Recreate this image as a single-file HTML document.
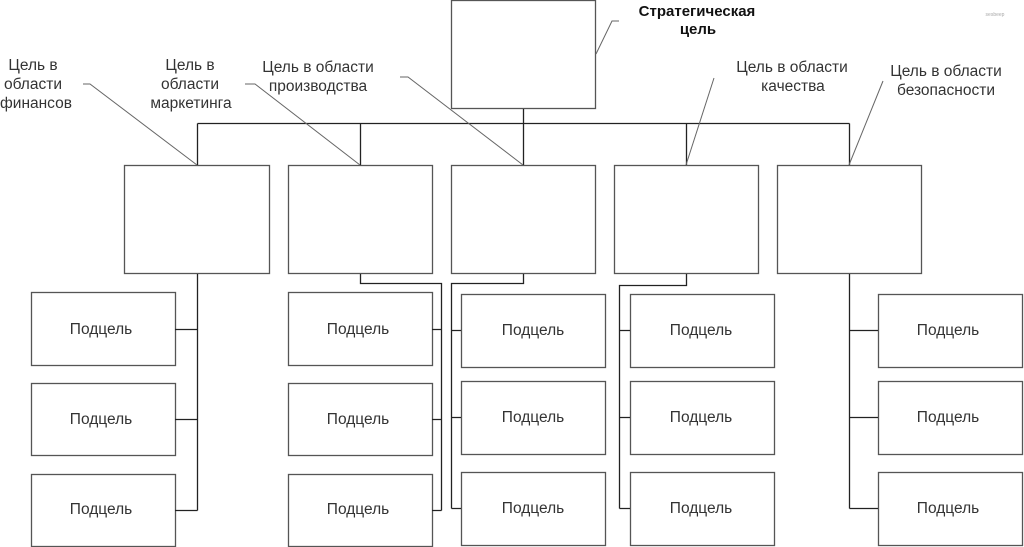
<!DOCTYPE html>
<html><head><meta charset="utf-8"><style>
html,body{margin:0;padding:0;background:#fff;}
svg{display:block;}
text{font-family:"Liberation Sans",sans-serif;font-size:15.5px;fill:#333;}
</style></head><body>
<svg width="1024" height="547" viewBox="0 0 1024 547" xmlns="http://www.w3.org/2000/svg">
<g fill="#fff" stroke="#555" stroke-width="1.3">
<rect x="451.5" y="0.5" width="144" height="108"/>
<rect x="124.5" y="165.5" width="145" height="108"/>
<rect x="288.5" y="165.5" width="144" height="108"/>
<rect x="451.5" y="165.5" width="144" height="108"/>
<rect x="614.5" y="165.5" width="144" height="108"/>
<rect x="777.5" y="165.5" width="144" height="108"/>
<rect x="31.5" y="292.5" width="144" height="73"/>
<rect x="31.5" y="383.5" width="144" height="72"/>
<rect x="31.5" y="474.5" width="144" height="72"/>
<rect x="288.5" y="292.5" width="144" height="73"/>
<rect x="288.5" y="383.5" width="144" height="72"/>
<rect x="288.5" y="474.5" width="144" height="72"/>
<rect x="461.5" y="294.5" width="144" height="73"/>
<rect x="461.5" y="381.5" width="144" height="73"/>
<rect x="461.5" y="472.5" width="144" height="73"/>
<rect x="630.5" y="294.5" width="144" height="73"/>
<rect x="630.5" y="381.5" width="144" height="73"/>
<rect x="630.5" y="472.5" width="144" height="73"/>
<rect x="878.5" y="294.5" width="144" height="73"/>
<rect x="878.5" y="381.5" width="144" height="73"/>
<rect x="878.5" y="472.5" width="144" height="73"/>
</g>
<g fill="none" stroke="#222" stroke-width="1.3">
<path d="M523.5 109V123.5M197.5 123.5H849.5M197.5 123.5V165M360.5 123.5V165M523.5 123.5V165M686.5 123.5V165M849.5 123.5V165"/>
<path d="M197.5 274V510.5M175 329.5H197.5M175 419.5H197.5M175 510.5H197.5"/>
<path d="M360.5 274V283.5H441.5V510.5M432 329.5H441.5M432 419.5H441.5M432 510.5H441.5"/>
<path d="M523.5 274V283.5H451.5V508.5M451.5 330.5H461M451.5 417.5H461M451.5 508.5H461"/>
<path d="M686.5 274V285.5H619.5V508.5M619.5 330.5H630M619.5 417.5H630M619.5 508.5H630"/>
<path d="M849.5 274V508.5M849.5 330.5H878M849.5 417.5H878M849.5 508.5H878"/>
</g>
<g fill="none" stroke="#666" stroke-width="1">
<path d="M83 84H90L197 165"/>
<path d="M245 84H255L360 165"/>
<path d="M400 77H408L523 165"/>
<path d="M714 78L686 165"/>
<path d="M883 81L849 165"/>
<path d="M619 21H612L596 54"/>
</g>
<g text-anchor="middle">
<text x="33" y="70">Цель в</text><text x="33" y="89">области</text><text x="36" y="108">финансов</text>
<text x="190" y="70">Цель в</text><text x="190" y="89">области</text><text x="191" y="108">маркетинга</text>
<text x="318" y="72">Цель в области</text><text x="318" y="91">производства</text>
<text x="792" y="72">Цель в области</text><text x="793" y="91">качества</text>
<text x="946" y="76">Цель в области</text><text x="946" y="95">безопасности</text>
<text x="697" y="16" style="font-weight:bold;fill:#111;font-size:15px">Стратегическая</text>
<text x="698" y="34" style="font-weight:bold;fill:#111;font-size:15px">цель</text>
<text x="995" y="16" style="font-size:5px;fill:#aaa">sesbeep</text>
<text x="101" y="334">Подцель</text><text x="101" y="424">Подцель</text><text x="101" y="514">Подцель</text>
<text x="358" y="334">Подцель</text><text x="358" y="424">Подцель</text><text x="358" y="514">Подцель</text>
<text x="533" y="335">Подцель</text><text x="533" y="422">Подцель</text><text x="533" y="513">Подцель</text>
<text x="701" y="335">Подцель</text><text x="701" y="422">Подцель</text><text x="701" y="513">Подцель</text>
<text x="948" y="335">Подцель</text><text x="948" y="422">Подцель</text><text x="948" y="513">Подцель</text>
</g>
</svg>
</body></html>
